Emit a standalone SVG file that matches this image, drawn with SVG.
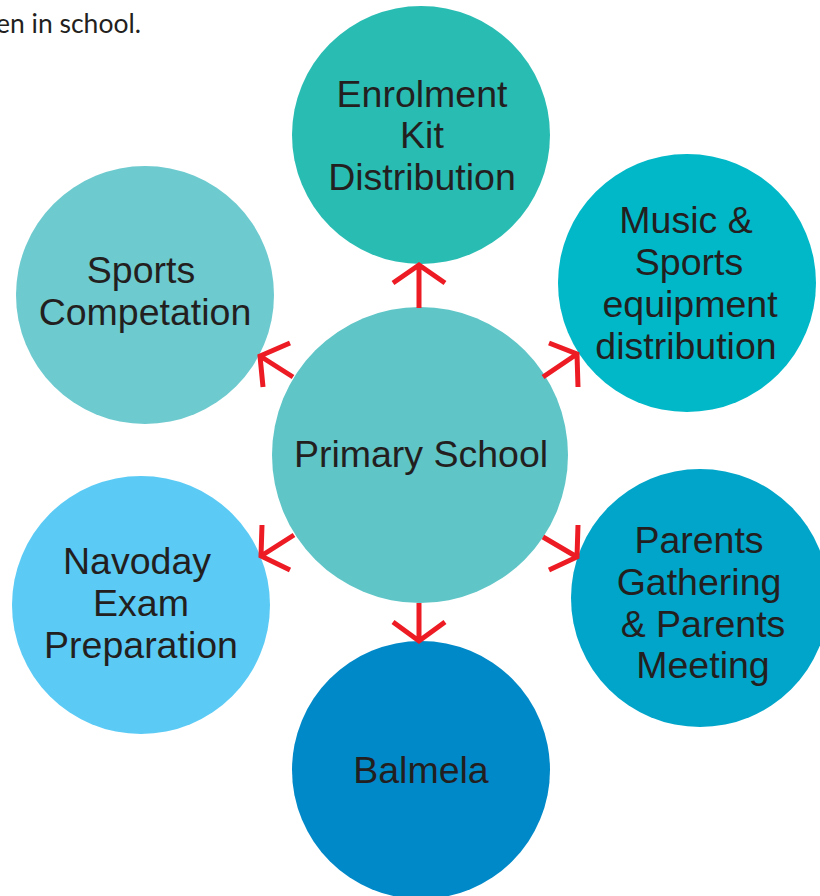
<svg xmlns="http://www.w3.org/2000/svg" width="820" height="896" viewBox="0 0 820 896">
<style>
.t{font-family:"Liberation Sans",Arial,sans-serif;font-size:37.5px;fill:#231f20;text-anchor:middle}
.a{fill:none;stroke:#ed1c24;stroke-width:5;stroke-linecap:butt;stroke-linejoin:miter}
</style>
<rect width="820" height="896" fill="#ffffff"/>
<text x="-4" y="33" font-family="Lato,'Open Sans',sans-serif" font-size="26.5" fill="#231f20">en in school.</text>
<g id="enrolment"><circle cx="421" cy="135" r="129" fill="#29bcb3"/>
<text class="t" x="422" y="107">Enrolment</text><text class="t" x="422" y="148">Kit</text><text class="t" x="422" y="190">Distribution</text></g>
<g id="sports"><circle cx="145" cy="295" r="129" fill="#6dcacf"/>
<text class="t" x="141" y="283">Sports</text><text class="t" x="145" y="325">Competation</text></g>
<g id="music"><circle cx="687" cy="283" r="129" fill="#00b8c8"/>
<text class="t" x="686" y="233">Music &amp;</text><text class="t" x="689" y="275">Sports</text><text class="t" x="690" y="317">equipment</text><text class="t" x="686" y="359">distribution</text></g>
<g id="navoday"><circle cx="141" cy="605" r="129" fill="#5bcbf5"/>
<text class="t" x="137" y="574">Navoday</text><text class="t" x="141" y="616">Exam</text><text class="t" x="141" y="658">Preparation</text></g>
<g id="parents"><circle cx="700" cy="598" r="129" fill="#00a5c9"/>
<text class="t" x="699" y="553">Parents</text><text class="t" x="699" y="595">Gathering</text><text class="t" x="703" y="637">&amp; Parents</text><text class="t" x="703" y="678">Meeting</text></g>
<g id="balmela"><circle cx="421" cy="770" r="129" fill="#0089c8"/>
<text class="t" x="421" y="783">Balmela</text></g>
<g id="primary"><circle cx="420" cy="455" r="148" fill="#5fc5c7"/>
<text class="t" x="421" y="467">Primary School</text></g>
<g id="connectors">
<path class="a" d="M419 308V265M393 283L419 265L445 283"/>
<path class="a" d="M293 377L260 356M290 343L260 356L263 387"/>
<path class="a" d="M543 377L577 354M549 343L577 354L578 387"/>
<path class="a" d="M294 535L261 556M262 525L261 556L290 570"/>
<path class="a" d="M543 537L577 557M578 525L577 557L549 570"/>
<path class="a" d="M419 603V641M393 622L419 641L445 622"/>
</g>
</svg>
